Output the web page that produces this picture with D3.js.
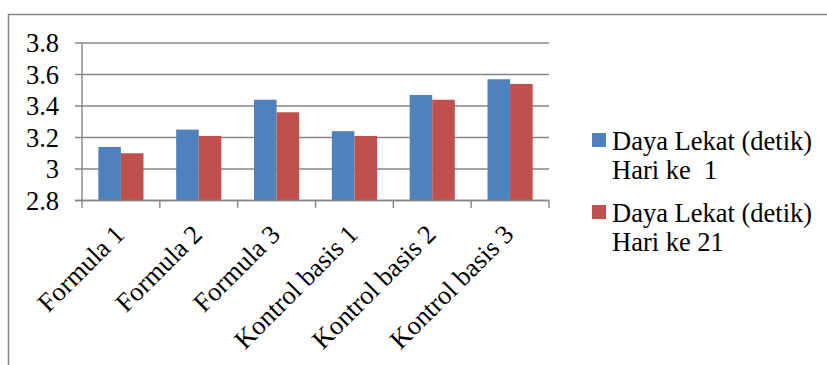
<!DOCTYPE html>
<html>
<head>
<meta charset="utf-8">
<script src="https://cdn.jsdelivr.net/npm/d3@7"></script>
<style>
  html, body { margin: 0; padding: 0; background: #fff; }
  svg { display: block; }
  svg text { font-family: "Liberation Serif", "Times New Roman", "DejaVu Serif", serif; }
</style>
</head>
<body>
<svg id="chart" width="827" height="365"></svg>
<script>
// Categories and series
const categories = ["Formula 1", "Formula 2", "Formula 3", "Kontrol basis 1", "Kontrol basis 2", "Kontrol basis 3"];
const seriesNames = ["Daya Lekat (detik)\nHari ke  1", "Daya Lekat (detik)\nHari ke 21"];
const hari1 = [3.14, 3.25, 3.44, 3.24, 3.47, 3.57];
const hari21 = [3.10, 3.21, 3.36, 3.21, 3.44, 3.54];
const yTicks = [2.8, 3, 3.2, 3.4, 3.6, 3.8];
const colors = ["#4F81BD", "#C0504D"];

const seriesValues = [hari1, hari21];
const FONT = "Liberation Serif, Times New Roman, DejaVu Serif, serif";
const FONT_SIZE = 26.5;

const svg = d3.select("#chart");
const W = 827, H = 365;

// Outer chart frame (right/bottom run past the visible area)
svg.append("rect")
  .attr("x", 8.5).attr("y", 14.5)
  .attr("width", W + 10).attr("height", H + 10)
  .attr("fill", "#fff")
  .attr("stroke", "#868686").attr("stroke-width", 1.5);

const plot = { left: 82, right: 549, top: 43, bottom: 200.5 };

const x0 = d3.scaleBand()
  .domain(categories)
  .range([plot.left, plot.right])
  .paddingInner(0.42)
  .paddingOuter(0.21);

const x1 = d3.scaleBand()
  .domain(d3.range(seriesValues.length))
  .range([0, x0.bandwidth()]);

const y = d3.scaleLinear()
  .domain([2.8, 3.8])
  .range([plot.bottom, plot.top]);

const gridColor = "#868686";

// Horizontal gridlines with tick stubs on the left
svg.append("g")
  .selectAll("line")
  .data(yTicks)
  .join("line")
  .attr("x1", plot.left - 7).attr("x2", plot.right)
  .attr("y1", d => y(d)).attr("y2", d => y(d))
  .attr("stroke", gridColor).attr("stroke-width", 1.4);

// Y tick labels
svg.append("g")
  .selectAll("text")
  .data(yTicks)
  .join("text")
  .attr("x", 59)
  .attr("y", d => y(d))
  .attr("dy", "0.34em")
  .attr("text-anchor", "end")
  .attr("font-family", FONT)
  .attr("font-size", FONT_SIZE)
  .attr("fill", "#000")
  .text(d => d3.format("~g")(d));

// Bars
const groups = svg.append("g")
  .selectAll("g")
  .data(categories)
  .join("g")
  .attr("transform", d => `translate(${x0(d)},0)`);

groups.selectAll("rect")
  .data((c, i) => seriesValues.map((vals, s) => ({ s, v: vals[i] })))
  .join("rect")
  .attr("x", d => x1(d.s))
  .attr("width", x1.bandwidth())
  .attr("y", d => y(d.v))
  .attr("height", d => y(2.8) - y(d.v))
  .attr("fill", d => colors[d.s]);

// Y axis line
svg.append("line")
  .attr("x1", plot.left).attr("x2", plot.left)
  .attr("y1", plot.top).attr("y2", plot.bottom)
  .attr("stroke", gridColor).attr("stroke-width", 1.4);

// X axis line and category boundary ticks
svg.append("line")
  .attr("x1", plot.left - 7).attr("x2", plot.right)
  .attr("y1", plot.bottom).attr("y2", plot.bottom)
  .attr("stroke", gridColor).attr("stroke-width", 1.4);

const boundaries = categories.map(c => x0(c) - x0.step() * x0.paddingOuter())
  .concat([plot.right]);
svg.append("g")
  .selectAll("line")
  .data(boundaries)
  .join("line")
  .attr("x1", d => d).attr("x2", d => d)
  .attr("y1", plot.bottom).attr("y2", plot.bottom + 7.5)
  .attr("stroke", gridColor).attr("stroke-width", 1.4);

// Rotated category labels
svg.append("g")
  .selectAll("text")
  .data(categories)
  .join("text")
  .attr("transform", d => `translate(${x0(d) + x0.bandwidth() / 2 + 5},236) rotate(-45)`)
  .attr("text-anchor", "end")
  .attr("font-family", FONT)
  .attr("font-size", FONT_SIZE)
  .attr("fill", "#000")
  .text(d => d);

// Legend
const legend = svg.append("g")
  .selectAll("g")
  .data(seriesNames)
  .join("g")
  .attr("transform", (d, i) => `translate(592,${133 + i * 72})`);

legend.append("rect")
  .attr("width", 14).attr("height", 14)
  .attr("fill", (d, i) => colors[i]);

legend.append("text")
  .attr("x", 20)
  .attr("font-family", FONT)
  .attr("font-size", FONT_SIZE)
  .attr("fill", "#000")
  .style("white-space", "pre")
  .selectAll("tspan")
  .data(d => d.split("\n"))
  .join("tspan")
  .attr("x", 20)
  .attr("y", (d, j) => 16.5 + j * 29.8)
  .text(d => d);
</script>
</body>
</html>
